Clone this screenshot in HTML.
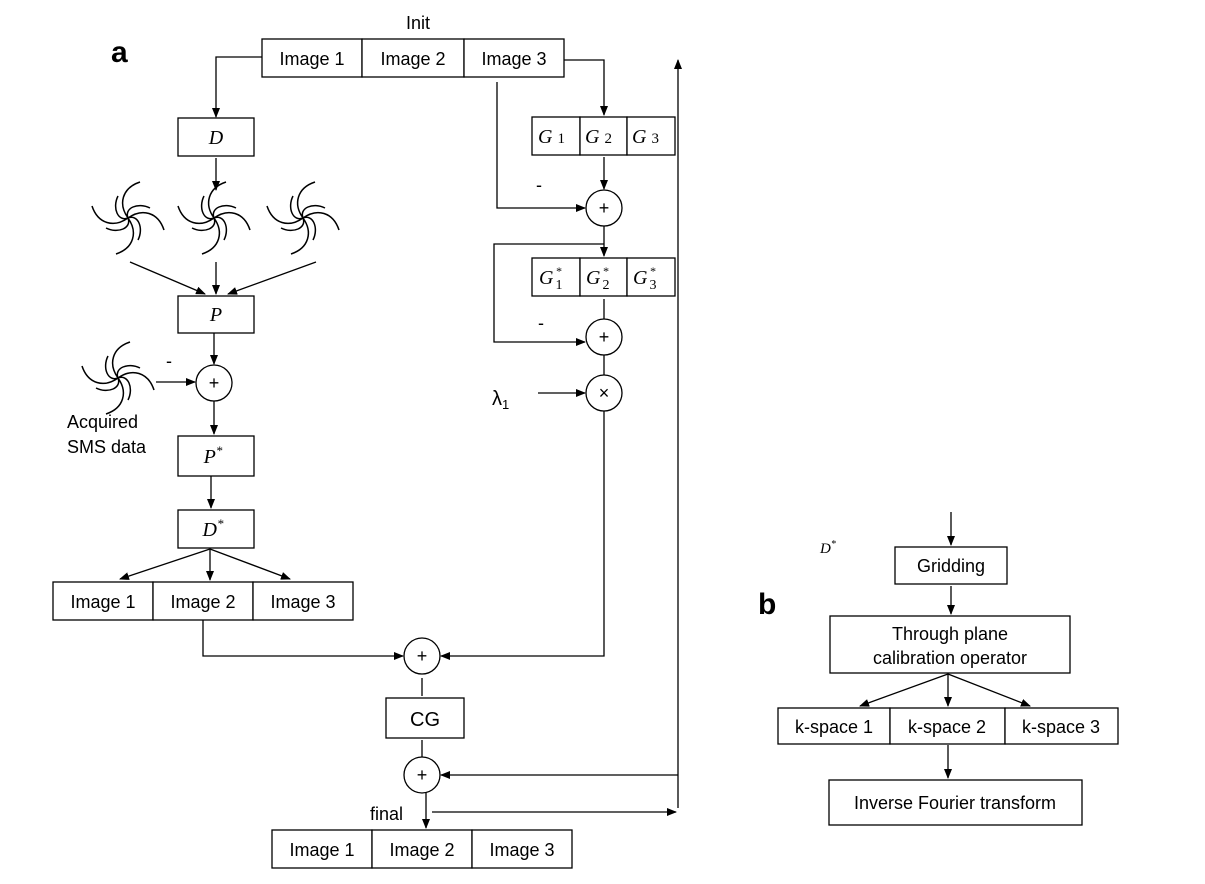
<!DOCTYPE html>
<html><head><meta charset="utf-8"><style>
html,body{margin:0;padding:0;background:#fff}
svg{display:block}
text{font-family:"Liberation Sans",sans-serif;fill:#000}
.s{font-family:"Liberation Serif",serif;font-style:italic}
</style></head><body>
<svg width="1205" height="884" viewBox="0 0 1205 884" xmlns="http://www.w3.org/2000/svg">
<defs>
<marker id="a" markerWidth="10" markerHeight="8" refX="9" refY="4" orient="auto" markerUnits="userSpaceOnUse"><path d="M0,0 L10,4 L0,8 z" fill="#000"/></marker>
<g id="sp" fill="none" stroke="#000" stroke-width="1.5">
<g id="arm"><path d="M0,0 C14,-10 30,-6 36,12"/><path d="M0,0 C10,-4 16,10 10,22"/></g>
<use href="#arm" transform="rotate(90)"/><use href="#arm" transform="rotate(180)"/><use href="#arm" transform="rotate(270)"/>
</g>
</defs>
<g stroke="#000" stroke-width="1.3" fill="#fff">
<rect x="262" y="39" width="100" height="38"/><rect x="362" y="39" width="102" height="38"/><rect x="464" y="39" width="100" height="38"/>
<rect x="178" y="118" width="76" height="38"/>
<rect x="178" y="296" width="76" height="37"/>
<rect x="178" y="436" width="76" height="40"/>
<rect x="178" y="510" width="76" height="38"/>
<rect x="53" y="582" width="100" height="38"/><rect x="153" y="582" width="100" height="38"/><rect x="253" y="582" width="100" height="38"/>
<rect x="532" y="117" width="48" height="38"/><rect x="580" y="117" width="47" height="38"/><rect x="627" y="117" width="48" height="38"/>
<rect x="532" y="258" width="48" height="38"/><rect x="580" y="258" width="47" height="38"/><rect x="627" y="258" width="48" height="38"/>
<rect x="386" y="698" width="78" height="40"/>
<rect x="272" y="830" width="100" height="38"/><rect x="372" y="830" width="100" height="38"/><rect x="472" y="830" width="100" height="38"/>
<circle cx="214" cy="383" r="18"/>
<circle cx="604" cy="208" r="18"/><circle cx="604" cy="337" r="18"/><circle cx="604" cy="393" r="18"/>
<circle cx="422" cy="656" r="18"/><circle cx="422" cy="775" r="18"/>
<rect x="895" y="547" width="112" height="37"/>
<rect x="830" y="616" width="240" height="57"/>
<rect x="778" y="708" width="112" height="36"/><rect x="890" y="708" width="115" height="36"/><rect x="1005" y="708" width="113" height="36"/>
<rect x="829" y="780" width="253" height="45"/>
</g>
<g stroke="#000" stroke-width="1.3" fill="none">
<polyline points="262,57 216,57 216,117" marker-end="url(#a)"/>
<line x1="216" y1="158" x2="216" y2="190" marker-end="url(#a)"/>
<line x1="130" y1="262" x2="205" y2="294" marker-end="url(#a)"/>
<line x1="216" y1="262" x2="216" y2="294" marker-end="url(#a)"/>
<line x1="316" y1="262" x2="228" y2="294" marker-end="url(#a)"/>
<line x1="214" y1="333" x2="214" y2="364" marker-end="url(#a)"/>
<line x1="156" y1="382" x2="195" y2="382" marker-end="url(#a)"/>
<line x1="214" y1="401" x2="214" y2="434" marker-end="url(#a)"/>
<line x1="211" y1="476" x2="211" y2="508" marker-end="url(#a)"/>
<line x1="210" y1="549" x2="120" y2="579" marker-end="url(#a)"/>
<line x1="210" y1="549" x2="210" y2="580" marker-end="url(#a)"/>
<line x1="210" y1="549" x2="290" y2="579" marker-end="url(#a)"/>
<polyline points="203,620 203,656 403,656" marker-end="url(#a)"/>
<polyline points="604,411 604,656 441,656" marker-end="url(#a)"/>
<line x1="422" y1="678" x2="422" y2="696"/>
<line x1="422" y1="740" x2="422" y2="757"/>
<line x1="678" y1="808" x2="678" y2="60" marker-end="url(#a)"/>
<line x1="678" y1="775" x2="441" y2="775" marker-end="url(#a)"/>
<line x1="426" y1="793" x2="426" y2="828" marker-end="url(#a)"/>
<line x1="432" y1="812" x2="676" y2="812" marker-end="url(#a)"/>
<polyline points="564,60 604,60 604,115" marker-end="url(#a)"/>
<polyline points="497,82 497,208 585,208" marker-end="url(#a)"/>
<line x1="604" y1="157" x2="604" y2="189" marker-end="url(#a)"/>
<line x1="604" y1="226" x2="604" y2="256" marker-end="url(#a)"/>
<polyline points="604,244 494,244 494,342 585,342" marker-end="url(#a)"/>
<line x1="604" y1="299" x2="604" y2="319"/>
<line x1="604" y1="355" x2="604" y2="375"/>
<line x1="538" y1="393" x2="585" y2="393" marker-end="url(#a)"/>
<line x1="951" y1="512" x2="951" y2="545" marker-end="url(#a)"/>
<line x1="951" y1="586" x2="951" y2="614" marker-end="url(#a)"/>
<line x1="948" y1="674" x2="860" y2="706" marker-end="url(#a)"/>
<line x1="948" y1="674" x2="948" y2="706" marker-end="url(#a)"/>
<line x1="948" y1="674" x2="1030" y2="706" marker-end="url(#a)"/>
<line x1="948" y1="745" x2="948" y2="778" marker-end="url(#a)"/>
</g>
<use href="#sp" transform="translate(128,218)"/>
<use href="#sp" transform="translate(214,218)"/>
<use href="#sp" transform="translate(303,218)"/>
<use href="#sp" transform="translate(118,378)"/>
<g font-size="18">
<text x="111" y="62" font-size="30" font-weight="bold">a</text>
<text x="418" y="29" text-anchor="middle">Init</text>
<text x="312" y="65" text-anchor="middle">Image 1</text><text x="413" y="65" text-anchor="middle">Image 2</text><text x="514" y="65" text-anchor="middle">Image 3</text>
<text x="103" y="608" text-anchor="middle">Image 1</text><text x="203" y="608" text-anchor="middle">Image 2</text><text x="303" y="608" text-anchor="middle">Image 3</text>
<text x="322" y="856" text-anchor="middle">Image 1</text><text x="422" y="856" text-anchor="middle">Image 2</text><text x="522" y="856" text-anchor="middle">Image 3</text>
<text x="67" y="428">Acquired</text><text x="67" y="453">SMS data</text>
<text x="425" y="726" text-anchor="middle" font-size="20">CG</text>
<text x="370" y="820">final</text>
<text x="166" y="367">-</text><text x="536" y="191">-</text><text x="538" y="329">-</text>
<text x="214" y="389" text-anchor="middle">+</text>
<text x="604" y="214" text-anchor="middle">+</text><text x="604" y="343" text-anchor="middle">+</text><text x="604" y="399" text-anchor="middle">×</text>
<text x="422" y="662" text-anchor="middle">+</text><text x="422" y="781" text-anchor="middle">+</text>
<text x="492" y="405" font-size="20">λ<tspan font-size="13" dy="4">1</tspan></text>
<text class="s" x="216" y="144" text-anchor="middle" font-size="20">D</text>
<text class="s" x="216" y="321" text-anchor="middle" font-size="20">P</text>
<text class="s" x="213" y="463" text-anchor="middle" font-size="20">P<tspan font-size="13" dy="-8">*</tspan></text>
<text class="s" x="213" y="536" text-anchor="middle" font-size="20">D<tspan font-size="13" dy="-8">*</tspan></text>
<text class="s" x="538" y="143" font-size="20">G<tspan font-style="normal" font-size="15" dx="5">1</tspan></text>
<text class="s" x="585" y="143" font-size="20">G<tspan font-style="normal" font-size="15" dx="5">2</tspan></text>
<text class="s" x="632" y="143" font-size="20">G<tspan font-style="normal" font-size="15" dx="5">3</tspan></text>
<text class="s" x="539" y="284" font-size="20">G<tspan font-style="normal" font-size="14" dx="2" dy="5">1</tspan><tspan font-size="12" dx="-7" dy="-14">*</tspan></text>
<text class="s" x="586" y="284" font-size="20">G<tspan font-style="normal" font-size="14" dx="2" dy="5">2</tspan><tspan font-size="12" dx="-7" dy="-14">*</tspan></text>
<text class="s" x="633" y="284" font-size="20">G<tspan font-style="normal" font-size="14" dx="2" dy="5">3</tspan><tspan font-size="12" dx="-7" dy="-14">*</tspan></text>
<text x="758" y="614" font-size="30" font-weight="bold">b</text>
<text class="s" x="820" y="553" font-size="15">D<tspan font-size="10" dy="-6">*</tspan></text>
<text x="951" y="572" text-anchor="middle">Gridding</text>
<text x="950" y="640" text-anchor="middle">Through plane</text>
<text x="950" y="664" text-anchor="middle">calibration operator</text>
<text x="834" y="733" text-anchor="middle">k-space 1</text><text x="947" y="733" text-anchor="middle">k-space 2</text><text x="1061" y="733" text-anchor="middle">k-space 3</text>
<text x="955" y="809" text-anchor="middle">Inverse Fourier transform</text>
</g>
</svg>
</body></html>
